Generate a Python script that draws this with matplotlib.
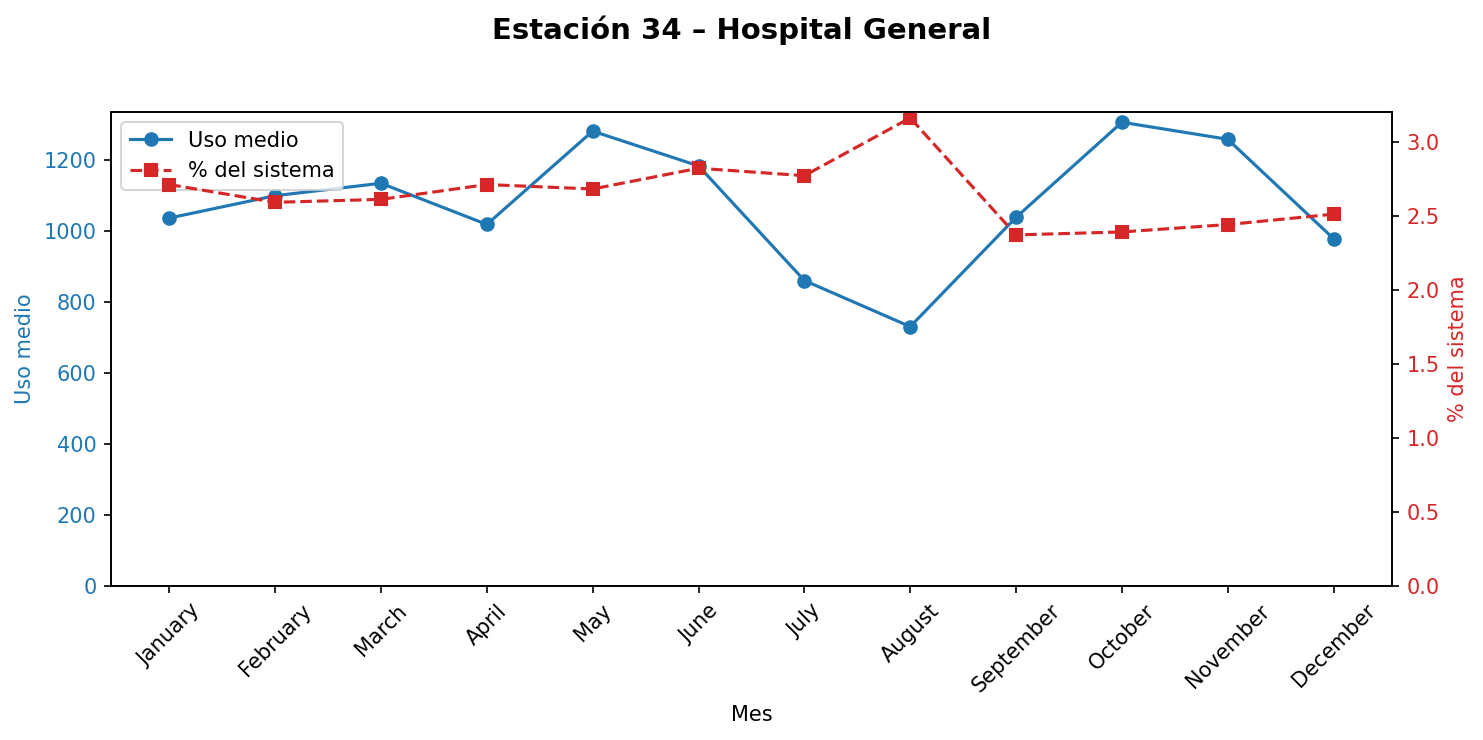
import matplotlib
matplotlib.use("Agg")
import matplotlib.pyplot as plt

months = ["January", "February", "March", "April", "May", "June", "July",
          "August", "September", "October", "November", "December"]
uso_medio = [1037, 1100, 1135, 1019, 1282, 1184, 861, 731, 1039, 1307, 1259, 979]
pct_sistema = [2.71, 2.59, 2.61, 2.71, 2.68, 2.82, 2.77, 3.16, 2.37, 2.39, 2.44, 2.51]

fig, ax1 = plt.subplots(figsize=(1483/150, 740/150), dpi=150)
fig.subplots_adjust(left=0.0749, right=0.9385, top=0.8486, bottom=0.2081)

c1 = "tab:blue"
c2 = "tab:red"
x = list(range(len(months)))
l1, = ax1.plot(x, uso_medio, color=c1, marker="o", linestyle="-", label="Uso medio")
ax1.set_ylim(bottom=0)
ax1.set_ylabel("Uso medio", color=c1)
ax1.tick_params(axis="y", labelcolor=c1)
ax1.set_xlabel("Mes")
ax1.set_xticks(x)
ax1.set_xticklabels(months, rotation=45)

ax2 = ax1.twinx()
l2, = ax2.plot(x, pct_sistema, color=c2, marker="s", linestyle="--", label="% del sistema")
ax2.set_ylim(bottom=0)
ax2.set_ylabel("% del sistema", color=c2)
ax2.tick_params(axis="y", labelcolor=c2)

ax1.legend([l1, l2], ["Uso medio", "% del sistema"], loc="upper left")
fig.suptitle("Estación 34 – Hospital General", fontsize=14, fontweight="bold", y=0.979)
fig.savefig("out.png", dpi=150)
